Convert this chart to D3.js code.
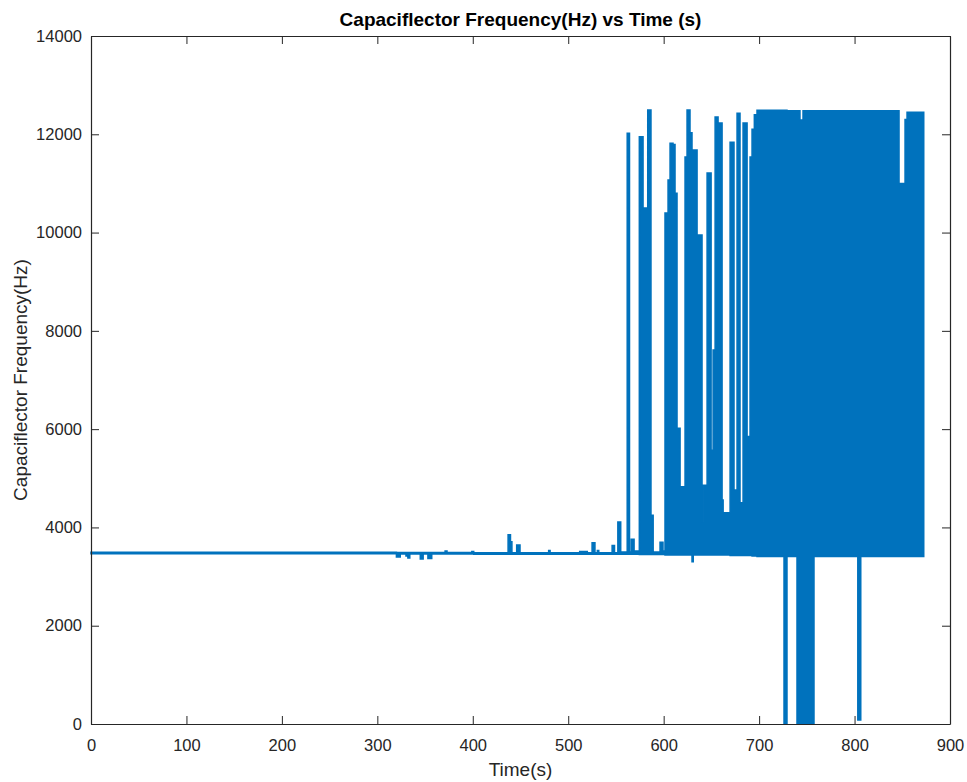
<!DOCTYPE html>
<html>
<head>
<meta charset="utf-8">
<script src="https://cdn.jsdelivr.net/npm/d3@7"></script>
<style>
  body { margin: 0; background: #fff; }
  text { font-family: "Liberation Sans", Arial, Helvetica, sans-serif; }
</style>
</head>
<body>
<div id="chart"></div>
<script>
// envelope of the sampled signal: from times[i] until times[i+1] the trace spans lowHz..highHz
const times = [0, 320, 324, 330, 332, 334, 345, 348, 353, 357, 371, 373, 399, 401,
  437, 439.5, 441, 446, 449.5, 479.5, 481, 512, 520, 525, 528, 530.5, 532, 546, 548.5,
  552, 555, 561.8, 564.2, 566, 569, 574.5, 578.4, 583.3, 586.7, 589, 596.2, 599.3,
  601.4, 604.6, 606.7, 609.8, 611.9, 614, 617.2, 622.4, 624.5, 627.6, 629.7, 631, 635,
  640.2, 641.3, 645.5, 649.7, 651.8, 653.9, 657, 661.2, 662.3, 669.6, 673.7, 676.9,
  680, 683.2, 687.4, 690.5, 692.6, 695, 697.8, 726.1, 729.2, 739.7, 742.8, 746, 757.5,
  803.4, 806.5, 846.6, 852.9, 855, 872.5];
const lowHz = [3465, 3400, 3460, 3420, 3380, 3460, 3360, 3460, 3370, 3460, 3460, 3460, 3460, 3455,
  3455, 3455, 3455, 3455, 3455, 3455, 3455, 3455, 3455, 3455, 3455, 3455, 3455, 3455, 3455,
  3455, 3455, 3455, 3455, 3455, 3455, 3450, 3450, 3450, 3450, 3450, 3450, 3450,
  3440, 3440, 3440, 3440, 3440, 3440, 3440, 3440, 3440, 3440, 3300, 3440, 3440,
  3440, 3440, 3440, 3440, 3440, 3440, 3440, 3440, 3440, 3430, 3430, 3430,
  3430, 3430, 3430, 3430, 3420, 3420, 3410, 0, 3410, 0, 0, 0, 3410,
  80, 3410, 3410, 3410, 3410, 3410];
const highHz = [3495, 3490, 3490, 3490, 3490, 3490, 3490, 3490, 3490, 3490, 3520, 3490, 3510, 3485,
  3850, 3710, 3485, 3640, 3485, 3530, 3485, 3510, 3485, 3690, 3485, 3530, 3485, 3630, 3485,
  4110, 3500, 12020, 3500, 3760, 3520, 11950, 10500, 12495, 4250, 3500, 3700, 3520,
  10400, 11070, 11820, 11790, 10800, 6020, 4830, 11540, 12495, 12030, 11680, 11680, 9950,
  4110, 4860, 11210, 5570, 7610, 12350, 12230, 4560, 4300, 11840, 4760, 12430,
  4500, 12230, 5850, 11540, 12100, 12400, 12490, 12490, 12480, 12480, 12290, 12480, 12480,
  12480, 12480, 11000, 12300, 12450, 3440];

const xTicks = [0, 100, 200, 300, 400, 500, 600, 700, 800, 900];
const yTicks = [0, 2000, 4000, 6000, 8000, 10000, 12000, 14000];

const width = 967, height = 782;
const margin = {left: 91, right: 17, top: 36, bottom: 58};
const axisColor = "#262626";
const lineColor = "#0072BD";
const tickLen = 8;

const svg = d3.select("#chart").append("svg")
  .attr("width", width)
  .attr("height", height);

const x = d3.scaleLinear().domain([0, 900]).range([margin.left, width - margin.right]);
const y = d3.scaleLinear().domain([0, 14000]).range([height - margin.bottom, margin.top]);

const data = times.map((t, i) => ({t: t, lo: lowHz[i], hi: highHz[i]}));

const band = d3.area()
  .curve(d3.curveStepAfter)
  .x(d => x(d.t))
  .y0(d => y(d.lo))
  .y1(d => y(d.hi));

svg.append("path")
  .datum(data)
  .attr("d", band)
  .attr("fill", lineColor)
  .attr("stroke", lineColor)
  .attr("stroke-width", 1.5)
  .attr("stroke-linejoin", "miter");

// axes, MATLAB style box with inward ticks on every side
const fmt = d3.format("d");
const axBottom = d3.axisBottom(x).tickValues(xTicks).tickFormat(fmt).tickSizeInner(-tickLen).tickSizeOuter(0).tickPadding(15);
const axLeft = d3.axisLeft(y).tickValues(yTicks).tickFormat(fmt).tickSizeInner(-tickLen).tickSizeOuter(0).tickPadding(9);
const axTop = d3.axisTop(x).tickValues(xTicks).tickSizeInner(-tickLen).tickSizeOuter(0).tickFormat("");
const axRight = d3.axisRight(y).tickValues(yTicks).tickSizeInner(-tickLen).tickSizeOuter(0).tickFormat("");

const gx = svg.append("g").attr("transform", `translate(0,${height - margin.bottom})`).call(axBottom);
const gy = svg.append("g").attr("transform", `translate(${margin.left},0)`).call(axLeft);
const gt = svg.append("g").attr("transform", `translate(0,${margin.top})`).call(axTop);
const gr = svg.append("g").attr("transform", `translate(${width - margin.right},0)`).call(axRight);

[gx, gy, gt, gr].forEach(g => {
  g.selectAll(".domain").attr("stroke", axisColor).attr("stroke-width", 1.2);
  g.selectAll(".tick line").attr("stroke", axisColor).attr("stroke-width", 1);
  g.selectAll(".tick text")
    .attr("fill", axisColor)
    .style("font-size", "16.5px");
});

svg.append("text")
  .attr("x", (margin.left + width - margin.right) / 2)
  .attr("y", 26)
  .attr("text-anchor", "middle")
  .style("font-size", "19px")
  .style("font-weight", "bold")
  .attr("fill", "#000")
  .text("Capaciflector Frequency(Hz) vs Time (s)");

svg.append("text")
  .attr("x", (margin.left + width - margin.right) / 2)
  .attr("y", 776)
  .attr("text-anchor", "middle")
  .style("font-size", "19px")
  .attr("fill", axisColor)
  .text("Time(s)");

svg.append("text")
  .attr("transform", `translate(27,${(margin.top + height - margin.bottom) / 2}) rotate(-90)`)
  .attr("text-anchor", "middle")
  .style("font-size", "19px")
  .attr("fill", axisColor)
  .text("Capaciflector Frequency(Hz)");
</script>
</body>
</html>
